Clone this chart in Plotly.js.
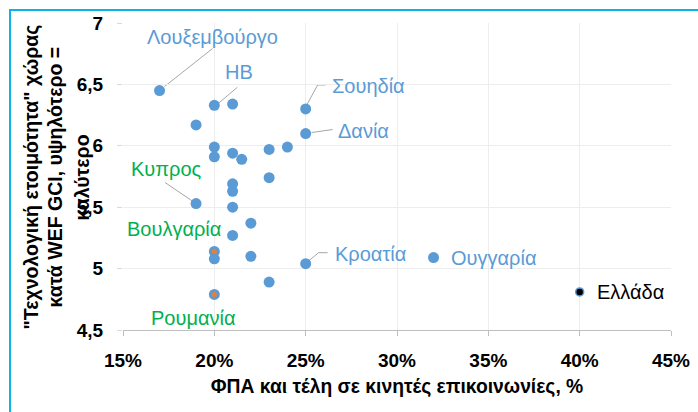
<!DOCTYPE html>
<html>
<head>
<meta charset="utf-8">
<script src="https://cdn.plot.ly/plotly-3.0.1.min.js"></script>
<style>
html,body{margin:0;padding:0;background:#fff;}
#wrap{position:relative;width:698px;height:412px;overflow:hidden;}
#chart{width:698px;height:412px;}
#frame{position:absolute;left:9px;top:9px;width:700px;height:420px;border-left:2px solid #0DB2EC;border-top:2px solid #0DB2EC;pointer-events:none;}
</style>
</head>
<body>
<div id="wrap"><div id="chart"></div><div id="frame"></div></div>
<script>
// Data: VAT & fees on mobile communications (%) vs WEF GCI "technological readiness"
const vat = [17, 20, 21, 19, 20, 20, 21, 21.5, 23, 24, 25, 25, 23, 21, 21, 19, 21, 22, 21, 20, 20, 22, 25, 23, 20, 32];
const gci = [6.45, 6.33, 6.34, 6.17, 5.99, 5.91, 5.94, 5.89, 5.97, 5.99, 6.30, 6.10, 5.74, 5.69, 5.63, 5.53, 5.50, 5.37, 5.27, 5.14, 5.08, 5.10, 5.04, 4.89, 4.79, 5.09];
const names = ['Λουξεμβούργο', 'HB', '', '', '', '', '', '', '', '', 'Σουηδία', 'Δανία', '', '', '', 'Κυπρος', '', '', '', 'Βουλγαρία', '', '', 'Κροατία', '', 'Ρουμανία', 'Ουγγαρία'];

// Highlighted (orange) countries
const hiNames = ['Βουλγαρία', 'Ρουμανία'];
const hiVat = [20, 20];
const hiGci = [5.14, 4.79];

// Greece
const grName = 'Ελλάδα';
const grVat = [40];
const grGci = [4.81];

// Axis ticks
const xTicks = [15, 20, 25, 30, 35, 40, 45];
const xTickLabels = ['15%', '20%', '25%', '30%', '35%', '40%', '45%'];
const yTicks = [4.5, 5, 5.5, 6, 6.5, 7];
const yTickLabels = ['4,5', '5', '5,5', '6', '6,5', '7'];

const BLUE = '#5B9BD5', GREEN = '#00B050', ORANGE = '#ED7D31', LEAD = '#A6A6A6';
const FONT = 'Liberation Sans, Arial, sans-serif';

// label styling (pixel offsets from the data point)
const labelStyle = {
  'Λουξεμβούργο': {dx: 53, dy: 54, anchor: 'center', color: BLUE, lead: 'M5,4 L53,42'},
  'HB': {dx: 25, dy: 33, anchor: 'center', color: BLUE, lead: 'M3,1 L23,18'},
  'Σουηδία': {dx: 24, dy: 23, anchor: 'left', color: BLUE, lead: 'M0,2 L12,24 L20,24'},
  'Δανία': {dx: 30, dy: 3, anchor: 'left', color: BLUE, lead: 'M6,1 L27,4'},
  'Κροατία': {dx: 27, dy: 10, anchor: 'left', color: BLUE, lead: 'M2,2 L13,11 L22,11'},
  'Ουγγαρία': {dx: 15, dy: 0, anchor: 'left', color: BLUE},
  'Κυπρος': {dx: -30, dy: 35, anchor: 'center', color: GREEN, lead: 'M-3,2 L-31,21'},
  'Βουλγαρία': {dx: -40, dy: 22, anchor: 'center', color: GREEN},
  'Ρουμανία': {dx: -21, dy: -24, anchor: 'center', color: GREEN},
  'Ελλάδα': {dx: 15, dy: 0, anchor: 'left', color: '#000000'}
};

const traces = [
  {x: vat, y: gci, type: 'scatter', mode: 'markers', hoverinfo: 'skip',
   marker: {color: BLUE, size: 11, line: {width: 0}}},
  {x: hiVat, y: hiGci, type: 'scatter', mode: 'markers', hoverinfo: 'skip',
   marker: {color: ORANGE, size: 5, line: {width: 0}}},
  {x: grVat, y: grGci, type: 'scatter', mode: 'markers', hoverinfo: 'skip',
   marker: {color: '#000000', size: 8, line: {width: 1.5, color: BLUE}}}
];

const annotations = [];
const shapes = [];
function addLabel(name, x, y) {
  const s = labelStyle[name];
  if (!s) return;
  annotations.push({x: x, y: y, xref: 'x', yref: 'y', text: name, showarrow: false,
    xanchor: s.anchor, yanchor: 'middle', xshift: s.dx, yshift: s.dy,
    font: {family: FONT, size: 20, color: s.color}});
  if (s.lead) {
    shapes.push({type: 'path', xref: 'x', yref: 'y', xsizemode: 'pixel', ysizemode: 'pixel',
      xanchor: x, yanchor: y, path: s.lead, line: {color: LEAD, width: 1}, layer: 'below'});
  }
}
names.forEach((n, i) => { if (n) addLabel(n, vat[i], gci[i]); });
addLabel(grName, grVat[0], grGci[0]);

// Y-axis title, three lines as in the original
const yTitleLines = ['"Τεχνολογική ετοιμότητα" χώρας', 'κατά WEF GCI, υψηλότερο =', 'καλύτερο'];
const yTitleX = [-93, -69, -42];
yTitleLines.forEach((t, i) => {
  annotations.push({xref: 'paper', yref: 'paper', x: 0, y: 0.5, xshift: yTitleX[i], yshift: -1,
    text: t, showarrow: false, textangle: -90, xanchor: 'center', yanchor: 'middle',
    font: {family: FONT, size: 19.5, color: '#000000', weight: 'bold'}});
});

const layout = {
  width: 698, height: 412,
  margin: {l: 123, r: 27, t: 23, b: 82, pad: 0},
  paper_bgcolor: '#ffffff', plot_bgcolor: '#ffffff',
  showlegend: false,
  separators: ',.',
  font: {family: FONT, color: '#000000'},
  xaxis: {
    range: [15, 45], tickmode: 'array', tickvals: xTicks, ticktext: xTickLabels,
    showgrid: true, gridcolor: '#EDEDED', gridwidth: 1,
    zeroline: false, showline: true, linecolor: '#BFBFBF', linewidth: 1,
    ticks: 'outside', ticklen: 5, tickcolor: '#BFBFBF', ticklabelstandoff: 8,
    tickfont: {family: FONT, size: 19, color: '#000000', weight: 'bold'},
    title: {text: 'ΦΠΑ και τέλη σε κινητές επικοινωνίες, %', standoff: 9,
      font: {family: FONT, size: 19.3, color: '#000000', weight: 'bold'}},
    fixedrange: true
  },
  yaxis: {
    range: [4.5, 7], tickmode: 'array', tickvals: yTicks, ticktext: yTickLabels,
    showgrid: true, gridcolor: '#EDEDED', gridwidth: 1,
    zeroline: false, showline: false,
    ticks: 'outside', ticklen: 5, tickcolor: '#D9D9D9', ticklabelstandoff: 10,
    tickfont: {family: FONT, size: 19, color: '#000000', weight: 'bold'},
    fixedrange: true
  },
  annotations: annotations,
  shapes: shapes
};

Plotly.newPlot('chart', traces, layout, {displayModeBar: false, staticPlot: true});
</script>
</body>
</html>
